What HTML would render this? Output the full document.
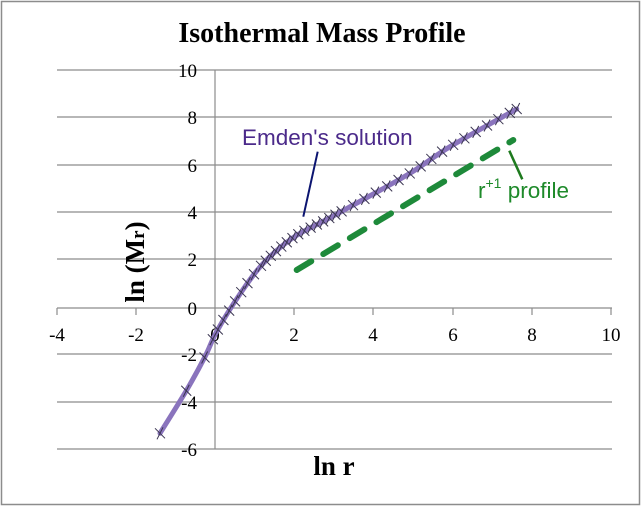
<!DOCTYPE html>
<html><head><meta charset="utf-8"><style>
html,body{margin:0;padding:0;background:#fff}
svg{display:block}
.t{font-family:"Liberation Serif",serif;font-size:19px;fill:#000}
</style></head><body>
<svg id="s" width="642" height="507" viewBox="0 0 642 507" xmlns="http://www.w3.org/2000/svg">
<rect x="1.5" y="1.5" width="638" height="503" fill="#fff" stroke="#8c8c8c" stroke-width="1.5"/>
<text x="322" y="42" text-anchor="middle" font-family="Liberation Serif,serif" font-weight="bold" font-size="28">Isothermal Mass Profile</text>
<g stroke="#8c8c8c" stroke-width="1.2">
<line x1="57" y1="70" x2="612" y2="70"/>
<line x1="57" y1="117" x2="612" y2="117"/>
<line x1="57" y1="165" x2="612" y2="165"/>
<line x1="57" y1="212" x2="612" y2="212"/>
<line x1="57" y1="259" x2="612" y2="259"/>
<line x1="57" y1="308" x2="612" y2="308"/>
<line x1="57" y1="354" x2="612" y2="354"/>
<line x1="57" y1="402" x2="612" y2="402"/>
<line x1="57" y1="449" x2="612" y2="449"/>
<line x1="215" y1="70" x2="215" y2="449"/>
<line x1="57" y1="308" x2="57" y2="315"/>
<line x1="136" y1="308" x2="136" y2="315"/>
<line x1="294" y1="308" x2="294" y2="315"/>
<line x1="373" y1="308" x2="373" y2="315"/>
<line x1="453" y1="308" x2="453" y2="315"/>
<line x1="532" y1="308" x2="532" y2="315"/>
<line x1="611" y1="308" x2="611" y2="315"/>
</g>
<g class="t" text-anchor="end">
<text x="197" y="77">10</text><text x="197" y="124">8</text><text x="197" y="172">6</text>
<text x="197" y="219">4</text><text x="197" y="266">2</text><text x="197" y="315">0</text>
<text x="197" y="361">-2</text><text x="197" y="409">-4</text><text x="197" y="456">-6</text>
</g>
<g class="t" text-anchor="middle">
<text x="57" y="341">-4</text><text x="136" y="341">-2</text><text x="215" y="341">0</text>
<text x="294" y="341">2</text><text x="373" y="341">4</text><text x="453" y="341">6</text>
<text x="532" y="341">8</text><text x="611" y="341">10</text>
</g>
<text x="334" y="475" text-anchor="middle" font-family="Liberation Serif,serif" font-weight="bold" font-size="27">ln r</text>
<text transform="translate(144,262) rotate(-90)" text-anchor="middle" font-family="Liberation Serif,serif" font-weight="bold" font-size="27">ln (M<tspan font-size="19">r</tspan>)</text>
<line x1="296.7" y1="270" x2="513.3" y2="140" stroke="#1e8a3a" stroke-width="6" stroke-dasharray="17 14" stroke-linecap="round"/>
<path id="c" d="" fill="none" stroke="#8a74bd" stroke-width="5" stroke-linecap="round"/>
<g id="m" stroke="#3a3550" stroke-width="1"></g>
<line x1="317.7" y1="151.7" x2="303.3" y2="216.7" stroke="#0b1470" stroke-width="2"/>
<text x="242" y="145" font-family="Liberation Sans,sans-serif" font-size="22.5" fill="#4b2a8a">Emden's solution</text>
<line x1="509.3" y1="150.7" x2="522.3" y2="179.3" stroke="#1e7a1e" stroke-width="2.5"/>
<text x="478" y="198" font-family="Liberation Sans,sans-serif" font-size="22.5" fill="#1e8a2a">r<tspan font-size="14" dy="-10">+1</tspan><tspan dy="10"> profile</tspan></text>
</svg>
<script>
var P=[[160,433.3],[186.7,390],[205,356.7],[217,331],[240,294],[263.3,263.3],[293.3,237.5],[326.7,219.5],[363.3,199.5],[410,173.3],[450,146.7],[516.7,109]];
var d='M'+P[0][0]+','+P[0][1];
for(var i=0;i<P.length-1;i++){var p0=P[Math.max(0,i-1)],p1=P[i],p2=P[i+1],p3=P[Math.min(P.length-1,i+2)];
d+=' C'+(p1[0]+(p2[0]-p0[0])/6)+','+(p1[1]+(p2[1]-p0[1])/6)+' '+(p2[0]-(p3[0]-p1[0])/6)+','+(p2[1]-(p3[1]-p1[1])/6)+' '+p2[0]+','+p2[1];}
var p=document.getElementById('c');p.setAttribute('d',d);
var g=document.getElementById('m'),L=p.getTotalLength(),ns='http://www.w3.org/2000/svg';
var pts=[0,50,88];for(var s=108;s<L;){var q=p.getPointAtLength(s);var st=(q.x>255&&q.x<340)?7:(q.x<255?11:13);pts.push(s);s+=st;}pts.push(L);
pts.forEach(function(s){var q=p.getPointAtLength(s);var h='M'+(q.x-5)+','+(q.y-5)+'L'+(q.x+5)+','+(q.y+5)+'M'+(q.x-3)+','+(q.y+6)+'L'+(q.x+3)+','+(q.y-6);var e=document.createElementNS(ns,'path');e.setAttribute('d',h);g.appendChild(e);});
</script>
</body></html>
